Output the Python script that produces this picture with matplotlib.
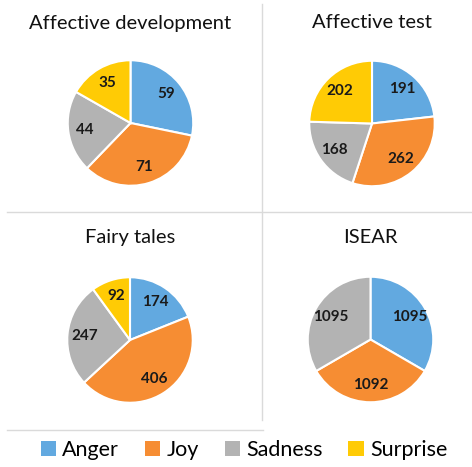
import matplotlib
matplotlib.use("Agg")
import matplotlib.pyplot as plt
import numpy as np
from matplotlib.patches import Patch
from matplotlib.lines import Line2D

categories = ["Anger", "Joy", "Sadness", "Surprise"]
colors = ["#62A9E0", "#F68D33", "#B3B3B3", "#FFCB05"]
titles = ["Affective development", "Affective test", "Fairy tales", "ISEAR"]
affective_development = [59, 71, 44, 35]
affective_test = [191, 262, 168, 202]
fairy_tales = [174, 406, 247, 92]
isear = [1095, 1092, 1095, 0]
datasets = [affective_development, affective_test, fairy_tales, isear]

W, H = 472, 467
plt.rcParams['font.family'] = ['Lato', 'DejaVu Sans']
fig = plt.figure(figsize=(W / 100, H / 100), dpi=100)

# pie centres and radii in pixels (from top-left)
centres = [(130.5, 123), (372, 123.5), (130, 340), (370.5, 339.5)]
radius = 64
title_pos = [(130, 23), (372, 23), (130, 238), (370, 238)]

for (cx, cy), vals, title, (tx, ty) in zip(centres, datasets, titles, title_pos):
    ax = fig.add_axes([(cx - radius) / W, (H - cy - radius) / H, 2 * radius / W, 2 * radius / H])
    nz = [(v, c) for v, c in zip(vals, colors) if v > 0]
    v_list = [v for v, _ in nz]
    c_list = [c for _, c in nz]
    wedges, _ = ax.pie(v_list, colors=c_list, startangle=90, counterclock=False, radius=1,
                       wedgeprops=dict(edgecolor="white", linewidth=1.5))
    for w, v in zip(wedges, v_list):
        ang = np.deg2rad((w.theta1 + w.theta2) / 2)
        ax.text(0.73 * np.cos(ang), 0.73 * np.sin(ang), str(v), ha="center", va="center",
                fontsize=11, fontweight="bold", color="#1a1a1a")
    ax.set_xlim(-1.02, 1.02)
    ax.set_ylim(-1.02, 1.02)
    ax.set_aspect("equal")
    ax.axis("off")
    fig.text(tx / W, 1 - ty / H, title, ha="center", va="center", fontsize=14.5, color="#111111")

# separators
lc = "#DADADA"
fig.add_artist(Line2D([262 / W, 262 / W], [1 - 4 / H, 1 - 420 / H], color=lc, lw=1))
fig.add_artist(Line2D([7 / W, 1], [1 - 212 / H, 1 - 212 / H], color=lc, lw=1))
fig.add_artist(Line2D([7 / W, 263 / W], [1 - 430 / H, 1 - 430 / H], color=lc, lw=1))

handles = [Patch(facecolor=c, edgecolor="none", label=l) for c, l in zip(colors, categories)]
fig.legend(handles=handles, loc="center", bbox_to_anchor=(244 / W, 1 - 450 / H), ncol=4,
           frameon=False, fontsize=15.5, handlelength=0.7, handleheight=0.7,
           handletextpad=0.3, columnspacing=1.2, borderpad=0)

fig.savefig("out.png", dpi=100, facecolor="white")
